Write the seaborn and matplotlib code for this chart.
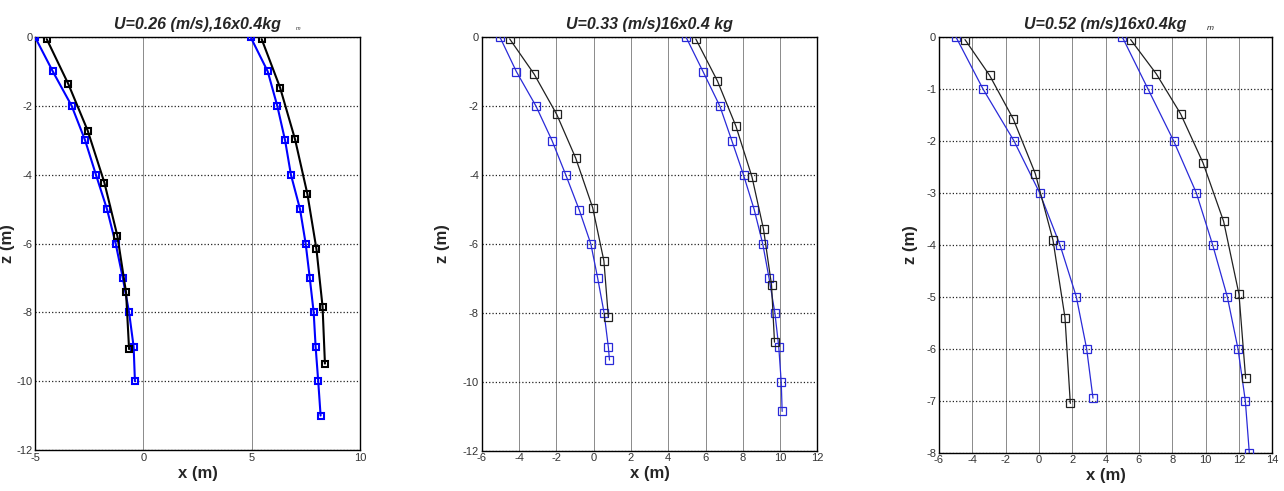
import numpy as np
import pandas as pd
import matplotlib
matplotlib.use("Agg")
import matplotlib.pyplot as plt
import seaborn as sns

# ---- data (x in m, z in m) ----
# U = 0.26 m/s
p1_blue_a_x = [-5.0, -4.18, -3.31, -2.69, -2.19, -1.68, -1.28, -0.95, -0.66, -0.45, -0.39]
p1_blue_a_z = [0, -1, -2, -3, -4, -5, -6, -7, -8, -9, -10]
p1_black_a_x = [-4.46, -3.46, -2.57, -1.80, -1.20, -0.80, -0.66]
p1_black_a_z = [-0.06, -1.37, -2.72, -4.23, -5.78, -7.42, -9.07]
p1_blue_b_x = [4.95, 5.74, 6.18, 6.54, 6.81, 7.23, 7.49, 7.68, 7.86, 7.95, 8.07, 8.18]
p1_blue_b_z = [0, -1, -2, -3, -4, -5, -6, -7, -8, -9, -10, -11]
p1_black_b_x = [5.46, 6.31, 7.0, 7.57, 7.99, 8.27, 8.38]
p1_black_b_z = [-0.06, -1.47, -2.97, -4.56, -6.17, -7.83, -9.49]

# U = 0.33 m/s
p2_blue_a_x = [-5.02, -4.14, -3.09, -2.23, -1.49, -0.78, -0.15, 0.22, 0.56, 0.79, 0.85]
p2_blue_a_z = [0, -1, -2, -3, -4, -5, -6, -7, -8, -9, -9.37]
p2_black_a_x = [-4.5, -3.19, -1.98, -0.96, -0.05, 0.55, 0.79]
p2_black_a_z = [-0.05, -1.07, -2.24, -3.51, -4.95, -6.49, -8.13]
p2_blue_b_x = [4.96, 5.87, 6.77, 7.41, 8.04, 8.61, 9.07, 9.41, 9.72, 9.93, 10.06, 10.11]
p2_blue_b_z = [0, -1, -2, -3, -4, -5, -6, -7, -8, -9, -10, -10.86]
p2_black_b_x = [5.48, 6.64, 7.63, 8.49, 9.11, 9.54, 9.7]
p2_black_b_z = [-0.05, -1.27, -2.58, -4.05, -5.57, -7.19, -8.85]

# U = 0.52 m/s
p3_blue_a_x = [-4.98, -3.36, -1.50, 0.04, 1.26, 2.24, 2.86, 3.24]
p3_blue_a_z = [0, -1, -2, -3, -4, -5, -6, -6.95]
p3_black_a_x = [-4.44, -2.96, -1.54, -0.22, 0.84, 1.56, 1.88]
p3_black_a_z = [-0.05, -0.74, -1.58, -2.63, -3.91, -5.40, -7.05]
p3_blue_b_x = [5.0, 6.54, 8.08, 9.44, 10.42, 11.3, 11.94, 12.38, 12.62]
p3_blue_b_z = [0, -1, -2, -3, -4, -5, -6, -7, -8]
p3_black_b_x = [5.5, 7.04, 8.5, 9.84, 11.08, 12.0, 12.4]
p3_black_b_z = [-0.05, -0.71, -1.48, -2.42, -3.55, -4.95, -6.57]

titles = ["U=0.26 (m/s),16x0.4kg", "U=0.33 (m/s)16x0.4 kg", "U=0.52 (m/s)16x0.4kg"]

sns.set_style("white")
plt.rcParams["font.family"] = ["Liberation Sans", "DejaVu Sans"]
plt.rcParams["axes.unicode_minus"] = False

fig = plt.figure(figsize=(12.84, 4.91), dpi=100)
axes = [
    fig.add_axes([0.0273, 0.0835, 0.2531, 0.841]),
    fig.add_axes([0.3752, 0.0821, 0.2614, 0.842]),
    fig.add_axes([0.7313, 0.0780, 0.2596, 0.8466]),
]

panels = [
    [(p1_blue_a_x, p1_blue_a_z, "blue"), (p1_black_a_x, p1_black_a_z, "black"),
     (p1_blue_b_x, p1_blue_b_z, "blue"), (p1_black_b_x, p1_black_b_z, "black")],
    [(p2_blue_a_x, p2_blue_a_z, "blue"), (p2_black_a_x, p2_black_a_z, "black"),
     (p2_blue_b_x, p2_blue_b_z, "blue"), (p2_black_b_x, p2_black_b_z, "black")],
    [(p3_blue_a_x, p3_blue_a_z, "blue"), (p3_black_a_x, p3_black_a_z, "black"),
     (p3_blue_b_x, p3_blue_b_z, "blue"), (p3_black_b_x, p3_black_b_z, "black")],
]

xlims = [(-5, 10), (-6, 12), (-6, 14)]
ylims = [(-12, 0), (-12, 0), (-8, 0)]
xticks = [np.arange(-5, 11, 5), np.arange(-6, 13, 2), np.arange(-6, 15, 2)]
yticks = [np.arange(-12, 1, 2), np.arange(-12, 1, 2), np.arange(-8, 1, 1)]
ylabel_x = [-0.062, -0.094, -0.063]

for i, ax in enumerate(axes):
    thick = i == 0
    for xs, zs, col in panels[i]:
        c = ("#0000ff" if thick else "#2a2ad8") if col == "blue" else ("#000000" if thick else "#202020")
        sns.lineplot(x=xs, y=zs, sort=False, ax=ax, color=c, marker="s",
                     markersize=5 if thick else 5.5, markerfacecolor="none",
                     markeredgecolor=c, markeredgewidth=1.5 if thick else 0.9,
                     linewidth=1.5 if thick else 0.9, estimator=None, zorder=3)
    ax.set_xlim(*xlims[i])
    ax.set_ylim(*ylims[i])
    ax.set_xticks(xticks[i])
    ax.set_yticks(yticks[i])
    ax.xaxis.grid(True, linestyle="-", color="#8a8a8a", linewidth=0.7)
    ax.yaxis.grid(True, linestyle=":", color="#222222", linewidth=0.9)
    for s in ax.spines.values():
        s.set_color("black")
        s.set_linewidth(1.0)
    ax.tick_params(direction="in", labelsize=8, length=3, pad=2, colors="black",
                   labelcolor="#333333")
    ax.set_title(titles[i], fontsize=11.5, fontweight="bold", style="italic", pad=6)
    ax.set_xlabel("x (m)", fontsize=12, fontweight="bold", labelpad=2)
    ax.set_ylabel("z (m)", fontsize=12, fontweight="bold")
    ax.yaxis.set_label_coords(ylabel_x[i], 0.5)

fig.text(298 / 1284, 1 - 28 / 491, "m", fontsize=4, style="italic", ha="center", va="center")
fig.text(1210 / 1284, 1 - 28 / 491, "m", fontsize=6, style="italic", ha="center", va="center")

fig.savefig("out.png", dpi=100)
